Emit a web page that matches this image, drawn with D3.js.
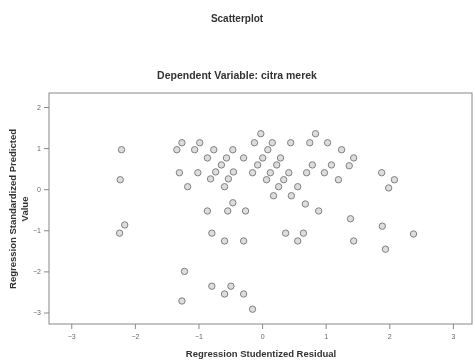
<!DOCTYPE html>
<html>
<head>
<meta charset="utf-8">
<script src="https://cdn.jsdelivr.net/npm/d3@7"></script>
<style>
  body { margin: 0; background: #fff; }
  svg { display: block; font-family: Arial, "Liberation Sans", sans-serif; }
</style>
</head>
<body>
<svg width="475" height="360"></svg>
<script>
// regression studentized residual (x) and standardized predicted value (y)
const residuals = [
  -2.21, -2.23, -2.16, -2.24,
  -1.26, -0.98, -1.34, -1.06, -0.86, -1.30, -1.01, -1.17,
  -0.02, -0.12, 0.16, 0.45, -0.76, -0.46, 0.09, -0.56, -0.29, 0.01, 0.29,
  -0.64, -0.07, 0.23, -0.73, -0.45, -0.15, 0.13, 0.42, -0.81, -0.53, 0.07, 0.34,
  -0.59, 0.26, 0.56, 0.18, 0.46, -0.46, 0.68, -0.86, -0.54, -0.26, 0.89,
  1.39, 1.89, -0.79, 0.37, 0.65, 2.38, -0.59, -0.29, 0.56, 1.44, 1.94,
  0.84, 0.75, 1.03, 1.25, 1.44, 0.79, 1.09, 1.37, 0.70, 0.98, 1.20, 1.88, 2.08, 1.99,
  -1.22, -0.79, -0.49, -0.59, -0.29, -1.26, -0.15
];
const predicted = [
  0.96, 0.23, -0.87, -1.07,
  1.13, 1.13, 0.96, 0.96, 0.76, 0.40, 0.40, 0.06,
  1.35, 1.13, 1.13, 1.13, 0.96, 0.96, 0.96, 0.76, 0.76, 0.76, 0.76,
  0.59, 0.59, 0.59, 0.42, 0.42, 0.40, 0.40, 0.40, 0.25, 0.25, 0.23, 0.23,
  0.06, 0.06, 0.06, -0.16, -0.16, -0.33, -0.36, -0.53, -0.53, -0.53, -0.53,
  -0.72, -0.90, -1.07, -1.07, -1.07, -1.09, -1.26, -1.26, -1.26, -1.26, -1.46,
  1.35, 1.13, 1.13, 0.96, 0.76, 0.59, 0.59, 0.57, 0.40, 0.40, 0.23, 0.40, 0.23, 0.03,
  -2.00, -2.36, -2.36, -2.55, -2.55, -2.72, -2.92
];
const xTicks = [-3, -2, -1, 0, 1, 2, 3];
const yTicks = [2, 1, 0, -1, -2, -3];

const svg = d3.select('svg');
const plotL = 49, plotR = 472, plotT = 93, plotB = 324;

const defs = svg.append('defs');
defs.append('filter').attr('id', 'soft')
  .append('feGaussianBlur').attr('stdDeviation', 0.7);

const g = svg.append('g').attr('filter', 'url(#soft)');

const x = d3.scaleLinear().domain([-3.35, 3.3]).range([plotL, plotR]);
const y = d3.scaleLinear().domain([-3.28, 2.34]).range([plotB, plotT]);

// titles
g.append('text').attr('x', 237).attr('y', 22).attr('text-anchor', 'middle')
  .attr('font-size', 10).attr('font-weight', 'bold').attr('fill', '#333')
  .text('Scatterplot');
g.append('text').attr('x', 237).attr('y', 79).attr('text-anchor', 'middle')
  .attr('font-size', 10.5).attr('font-weight', 'bold').attr('fill', '#333')
  .text('Dependent Variable: citra merek');

// frame
g.append('rect').attr('x', plotL).attr('y', plotT)
  .attr('width', plotR - plotL).attr('height', plotB - plotT)
  .attr('fill', 'none').attr('stroke', '#888').attr('stroke-width', 1);

// axes
const xAxis = g.append('g').attr('transform', `translate(0,${plotB})`)
  .call(d3.axisBottom(x).tickValues(xTicks).tickSize(5).tickFormat(d3.format('d')));
const yAxis = g.append('g').attr('transform', `translate(${plotL},0)`)
  .call(d3.axisLeft(y).tickValues(yTicks).tickSize(5).tickFormat(d3.format('d')));
[xAxis, yAxis].forEach(a => {
  a.select('.domain').remove();
  a.selectAll('line').attr('stroke', '#888');
  a.selectAll('text').attr('font-size', 7).attr('fill', '#666')
    .attr('font-family', 'Arial, "Liberation Sans", sans-serif');
});
xAxis.selectAll('text').attr('dy', '1em');

// axis titles
g.append('text').attr('x', 261).attr('y', 357).attr('text-anchor', 'middle')
  .attr('font-size', 9.5).attr('font-weight', 'bold').attr('fill', '#333')
  .text('Regression Studentized Residual');
const yt = g.append('text').attr('transform', 'translate(16,209) rotate(-90)')
  .attr('text-anchor', 'middle').attr('font-size', 9.5)
  .attr('font-weight', 'bold').attr('fill', '#333');
yt.append('tspan').attr('x', 0).attr('dy', 0).text('Regression Standardized Predicted');
yt.append('tspan').attr('x', 0).attr('dy', 12).text('Value');

// points
g.append('g').selectAll('circle')
  .data(residuals.map((r, i) => ({ r, p: predicted[i] })))
  .enter()
  .append('circle')
  .attr('cx', d => x(d.r))
  .attr('cy', d => y(d.p))
  .attr('r', 3.2)
  .attr('fill', '#ddd')
  .attr('stroke', '#808080')
  .attr('stroke-width', 1);
</script>
</body>
</html>
